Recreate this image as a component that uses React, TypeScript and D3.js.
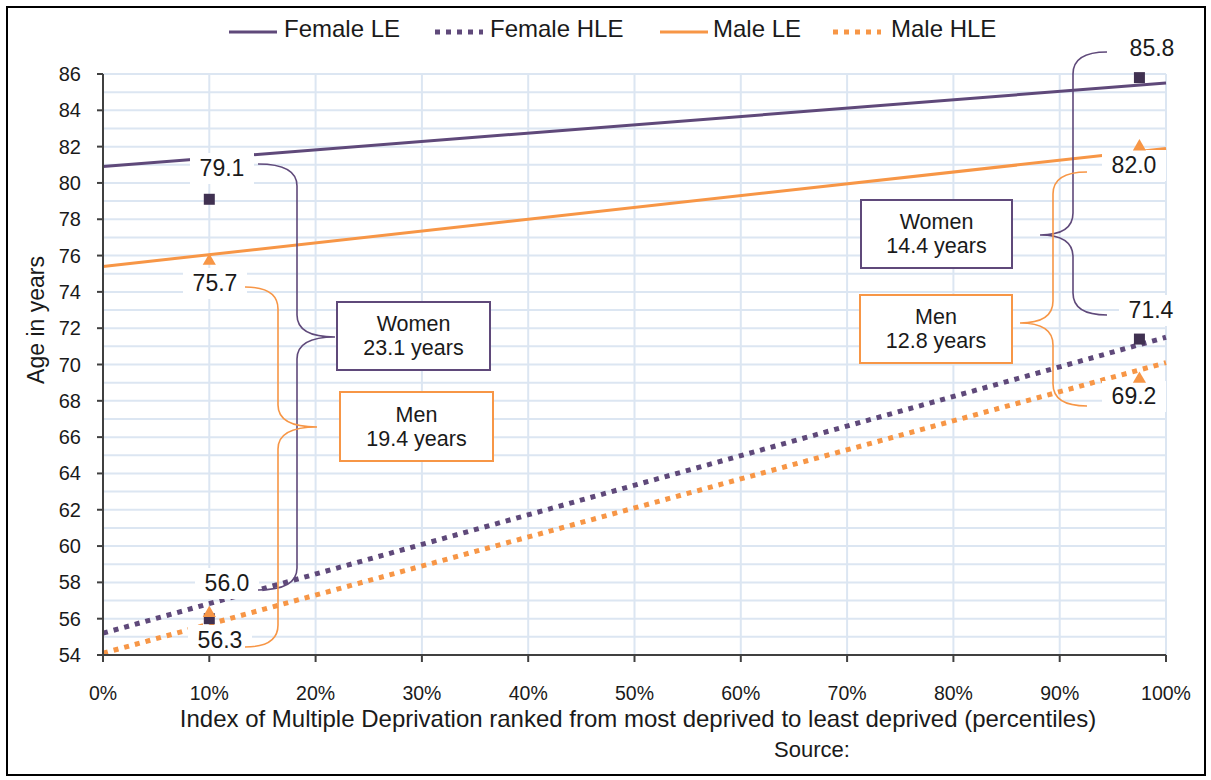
import React from "react";
import * as d3 from "d3";

// ---- Data ----
const pointPct = [10, 97.5];
const femaleLE = [79.1, 85.8];
const maleLE = [75.7, 82.0];
const femaleHLE = [56.0, 71.4];
const maleHLE = [56.3, 69.2];

const trendPct = [0, 100];
const femaleLETrend = [80.9, 85.5];
const maleLETrend = [75.4, 81.9];
const femaleHLETrend = [55.2, 71.5];
const maleHLETrend = [54.1, 70.1];

const yTicks = d3.range(54, 87, 2);
const yMinor = d3.range(55, 87, 1);
const xTicks = d3.range(0, 101, 10);

const legendItems = ["Female LE", "Female HLE", "Male LE", "Male HLE"];

const PURPLE = "#5f497a";
const PURPLE_DARK = "#403151";
const ORANGE = "#f79646";
const GRID = "#dce6f2";
const AXIS = "#404040";
const FONT = "'Liberation Sans', Arial, sans-serif";

const W = 1211, H = 780;

function brace(xEnd: number, yTop: number, yBottom: number, xVert: number, xTip: number, yTip: number, r: number) {
  return [
    `M${xEnd},${yTop}`,
    `Q${xVert},${yTop} ${xVert},${yTop + r}`,
    `L${xVert},${yTip - r}`,
    `Q${xVert},${yTip} ${xTip},${yTip}`,
    `Q${xVert},${yTip} ${xVert},${yTip + r}`,
    `L${xVert},${yBottom - r}`,
    `Q${xVert},${yBottom} ${xEnd},${yBottom}`,
  ].join(" ");
}

export default function App() {
  const x = d3.scaleLinear().domain([0, 100]).range([103, 1166]);
  const y = d3.scaleLinear().domain([54, 86]).range([655, 74]);
  const line = d3
    .line<[number, number]>()
    .x((d) => x(d[0]))
    .y((d) => y(d[1]));
  const mk = (vals: number[]) => trendPct.map((p, i) => [p, vals[i]] as [number, number]);

  const sq = 11;
  const tri = d3.symbol().type(d3.symbolTriangle).size(75)();

  const labels = [
    { t: femaleLE[0].toFixed(1), cx: 222, by: 176 },
    { t: maleLE[0].toFixed(1), cx: 215, by: 291 },
    { t: femaleHLE[0].toFixed(1), cx: 227, by: 591 },
    { t: maleHLE[0].toFixed(1), cx: 220, by: 648 },
    { t: femaleLE[1].toFixed(1), cx: 1152, by: 56 },
    { t: maleLE[1].toFixed(1), cx: 1134, by: 173 },
    { t: femaleHLE[1].toFixed(1), cx: 1151, by: 318 },
    { t: maleHLE[1].toFixed(1), cx: 1134, by: 404 },
  ];

  const fGap0 = (femaleLE[0] - femaleHLE[0]).toFixed(1);
  const mGap0 = (maleLE[0] - maleHLE[0]).toFixed(1);
  const fGap1 = (femaleLE[1] - femaleHLE[1]).toFixed(1);
  const mGap1 = (maleLE[1] - maleHLE[1]).toFixed(1);

  const boxes = [
    { x0: 337, y0: 302, w: 153, h: 68, c: PURPLE, l1: "Women", l2: `${fGap0} years` },
    { x0: 340, y0: 392, w: 153, h: 69, c: ORANGE, l1: "Men", l2: `${mGap0} years` },
    { x0: 861, y0: 200, w: 151, h: 68, c: PURPLE, l1: "Women", l2: `${fGap1} years` },
    { x0: 860, y0: 295, w: 152, h: 68, c: ORANGE, l1: "Men", l2: `${mGap1} years` },
  ];

  const legendPos = [
    { lx: 229, tx: 284, color: PURPLE, dotted: false },
    { lx: 435, tx: 490, color: PURPLE, dotted: true },
    { lx: 660, tx: 713, color: ORANGE, dotted: false },
    { lx: 833, tx: 891, color: ORANGE, dotted: true },
  ];

  return (
    <svg
      width={W}
      height={H}
      viewBox={`0 0 ${W} ${H}`}
      style={{ position: "absolute", left: 0, top: 0, background: "#fff" }}
      fontFamily={FONT}
    >
      <rect x={0} y={0} width={W} height={H} fill="#fff" />
      <rect x={7} y={7} width={1198} height={768} fill="none" stroke="#000" strokeWidth={2} />

      {/* Legend */}
      {legendItems.map((name, i) => {
        const lp = legendPos[i];
        return (
          <g key={name}>
            <line
              x1={lp.lx}
              x2={lp.lx + 48}
              y1={32}
              y2={32}
              stroke={lp.color}
              strokeWidth={lp.dotted ? 5 : 3}
              strokeDasharray={lp.dotted ? "5,6" : undefined}
            />
            <text x={lp.tx} y={37} fontSize={24} fill="#1a1a1a">
              {name}
            </text>
          </g>
        );
      })}

      {/* Gridlines */}
      {yMinor.map((v) => (
        <line key={"h" + v} x1={x(0)} x2={x(100)} y1={y(v)} y2={y(v)} stroke={GRID} strokeWidth={2} />
      ))}
      {xTicks.filter((v) => v > 0).map((v) => (
        <line key={"v" + v} x1={x(v)} x2={x(v)} y1={y(86)} y2={y(54)} stroke={GRID} strokeWidth={2} />
      ))}

      {/* Trend lines */}
      <path d={line(mk(femaleLETrend)) || ""} fill="none" stroke={PURPLE} strokeWidth={3} />
      <path d={line(mk(maleLETrend)) || ""} fill="none" stroke={ORANGE} strokeWidth={3} />
      <path d={line(mk(femaleHLETrend)) || ""} fill="none" stroke={PURPLE} strokeWidth={5} strokeDasharray="5,6" />
      <path d={line(mk(maleHLETrend)) || ""} fill="none" stroke={ORANGE} strokeWidth={5} strokeDasharray="5,6" />

      {/* Value labels */}
      {labels.map((l, i) => (
        <g key={"lab" + i}>
          <rect x={l.cx - 32} y={l.by - 23} width={64} height={31} fill="#fff" />
          <text x={l.cx} y={l.by} fontSize={23} textAnchor="middle" fill="#1a1a1a">
            {l.t}
          </text>
        </g>
      ))}

      {/* Axes */}
      <line x1={x(0)} x2={x(0)} y1={y(86)} y2={y(54)} stroke={AXIS} strokeWidth={2} />
      <line x1={x(0)} x2={x(100)} y1={y(54)} y2={y(54)} stroke={AXIS} strokeWidth={2} />
      {yTicks.map((v) => (
        <g key={"yt" + v}>
          <line x1={x(0) - 6} x2={x(0)} y1={y(v)} y2={y(v)} stroke={AXIS} strokeWidth={2} />
          <text x={81} y={y(v) + 7} fontSize={20} textAnchor="end" fill="#1a1a1a">
            {v}
          </text>
        </g>
      ))}
      {xTicks.map((v) => (
        <g key={"xt" + v}>
          <line x1={x(v)} x2={x(v)} y1={y(54)} y2={y(54) + 7} stroke={AXIS} strokeWidth={2} />
          <text x={x(v)} y={700} fontSize={19.5} textAnchor="middle" fill="#1a1a1a">
            {v}%
          </text>
        </g>
      ))}
      <text x={638} y={727} fontSize={24} textAnchor="middle" fill="#1a1a1a">
        Index of Multiple Deprivation ranked from most deprived to least deprived (percentiles)
      </text>
      <text x={812} y={757} fontSize={22} textAnchor="middle" fill="#1a1a1a">
        Source:
      </text>
      <text transform="translate(44,320) rotate(-90)" fontSize={23} textAnchor="middle" fill="#1a1a1a">
        Age in years
      </text>

      {/* Braces */}
      <path d={brace(258, 164, 590, 297, 335, 337, 22)} fill="none" stroke={PURPLE} strokeWidth={1.6} />
      <path d={brace(245, 287, 647, 278, 317, 427, 22)} fill="none" stroke={ORANGE} strokeWidth={1.6} />
      <path d={brace(1107, 52, 315, 1073, 1040, 235, 22)} fill="none" stroke={PURPLE} strokeWidth={1.6} />
      <path d={brace(1087, 172, 406, 1053, 1020, 323, 22)} fill="none" stroke={ORANGE} strokeWidth={1.6} />

      {/* Boxes */}
      {boxes.map((b, i) => {
        const cy = b.y0 + b.h / 2;
        return (
          <g key={"box" + i}>
            <rect x={b.x0} y={b.y0} width={b.w} height={b.h} fill="#fff" stroke={b.c} strokeWidth={2} />
            <text x={b.x0 + b.w / 2} y={cy - 5} fontSize={21.5} textAnchor="middle" fill="#1a1a1a">
              {b.l1}
            </text>
            <text x={b.x0 + b.w / 2} y={cy + 19} fontSize={21.5} textAnchor="middle" fill="#1a1a1a">
              {b.l2}
            </text>
          </g>
        );
      })}

      {/* Markers */}
      {pointPct.map((p, i) => (
        <g key={"fm" + i}>
          <rect x={x(p) - sq / 2} y={y(femaleLE[i]) - sq / 2} width={sq} height={sq} fill={PURPLE_DARK} />
          <rect x={x(p) - sq / 2} y={y(femaleHLE[i]) - sq / 2} width={sq} height={sq} fill={PURPLE_DARK} />
        </g>
      ))}
      {pointPct.map((p, i) => (
        <g key={"mm" + i}>
          <path d={tri || ""} transform={`translate(${x(p)},${y(maleLE[i])})`} fill={ORANGE} />
          <path d={tri || ""} transform={`translate(${x(p)},${y(maleHLE[i])})`} fill={ORANGE} />
        </g>
      ))}
    </svg>
  );
}
